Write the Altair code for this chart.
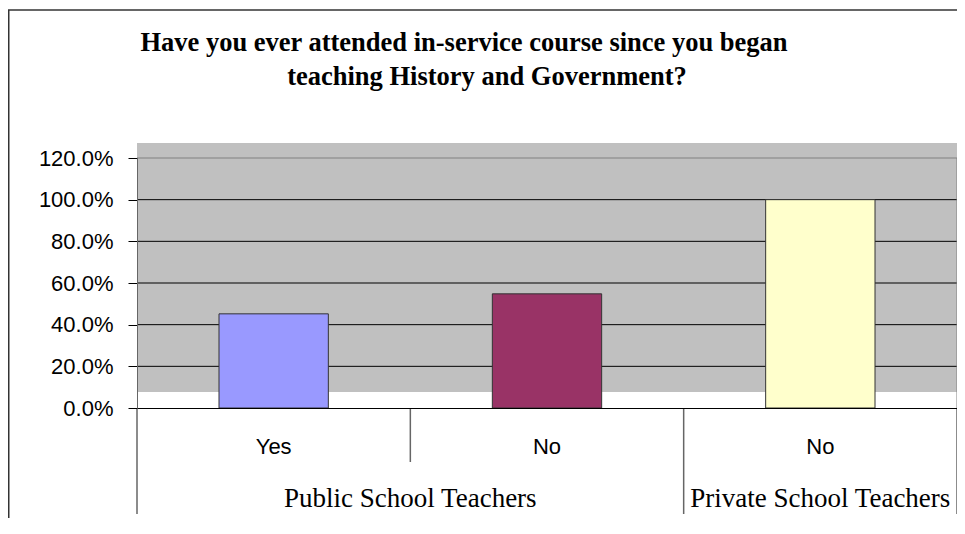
import altair as alt
import pandas as pd

# ---- data ----
groups = ["Public School Teachers", "Public School Teachers", "Private School Teachers"]
answers = ["Yes", "No", "No"]
values = [0.452, 0.548, 1.0]
y_ticks = [0.0, 0.2, 0.4, 0.6, 0.8, 1.0, 1.2]
title_lines = ["Have you ever attended in-service course since you began",
               "teaching History and Government?"]

# ---- styles ----
bar_colors = ["#9999FF", "#993366", "#FFFFCC"]
W, H = 820, 250

keys = [g + "|" + a for g, a in zip(groups, answers)]
df = pd.DataFrame({"key": keys, "group": groups, "answer": answers, "value": values})
df["start"] = [i == 0 or groups[i] != groups[i - 1] for i in range(len(groups))]
df["last"] = [i == len(groups) - 1 for i in range(len(groups))]
grid_df = pd.DataFrame({"v": y_ticks[1:]})
one = pd.DataFrame({"a": [0]})

xscale = alt.Scale(domain=keys, paddingInner=0, paddingOuter=0)
yscale = alt.Scale(domain=[0, 1.2], nice=False, zero=True)

yaxis = alt.Axis(values=y_ticks, format=".1%", title=None, grid=False,
                 tickSize=9, tickColor="black", domainColor="#666666",
                 labelFont="Liberation Sans", labelFontSize=22, labelColor="black",
                 labelPadding=15, zindex=1)
xaxis = alt.Axis(title=None, labelExpr="split(datum.label, '|')[1]", labelAngle=0,
                 ticks=False, tickSize=0, domainColor="black", grid=False,
                 labelFont="Liberation Sans", labelFontSize=22, labelColor="black",
                 labelBaseline="middle", labelPadding=38, zindex=1)

bg = alt.Chart(one).mark_rect(color="#C0C0C0").encode(
    x=alt.value(0), x2=alt.value("width"), y=alt.value(-15), y2=alt.value(234))

grid = alt.Chart(grid_df).mark_rule(strokeWidth=1).encode(
    x=alt.value(0), x2=alt.value("width"),
    y=alt.Y("v:Q", scale=yscale, axis=yaxis),
    color=alt.condition("datum.v >= 1.2", alt.value("#808080"), alt.value("black")))

bars = alt.Chart(df).mark_bar(width=alt.RelativeBandSize(0.4), stroke="#333333",
                              strokeWidth=1).encode(
    x=alt.X("key:N", scale=xscale, axis=xaxis, sort=keys),
    y=alt.Y("value:Q", scale=yscale, axis=yaxis),
    color=alt.Color("key:N", scale=alt.Scale(domain=keys, range=bar_colors), legend=None))

right_border = alt.Chart(one).mark_rule(color="#808080", strokeWidth=1).encode(
    x=alt.value("width"), y=alt.value(0), y2=alt.value(H))

div_short = alt.Chart(df).transform_filter("!datum.start").mark_rule(
    color="#666666", strokeWidth=1.5).encode(
    x=alt.X("key:N", bandPosition=0), y=alt.value(H), y2=alt.value(H + 54))
div_long = alt.Chart(df).transform_filter("datum.start").mark_rule(
    color="#666666", strokeWidth=1.5).encode(
    x=alt.X("key:N", bandPosition=0), y=alt.value(H), y2=alt.value(H + 106))
div_end = alt.Chart(df).transform_filter("datum.last").mark_rule(
    color="#666666", strokeWidth=1.5).encode(
    x=alt.X("key:N", bandPosition=1), y=alt.value(H), y2=alt.value(H + 106))

grp_style = dict(font="Liberation Serif", fontSize=27, color="black",
                 align="center", baseline="alphabetic")
pub_label = alt.Chart(df).transform_filter(
    "datum.group == 'Public School Teachers' && datum.start").mark_text(**grp_style).encode(
    x=alt.X("key:N", bandPosition=1), y=alt.value(H + 99), text="group:N")
priv_label = alt.Chart(df).transform_filter(
    "datum.group == 'Private School Teachers' && datum.start").mark_text(**grp_style).encode(
    x=alt.X("key:N", bandPosition=0.5), y=alt.value(H + 99), text="group:N")

t_style = dict(font="Liberation Serif", fontSize=26.5, fontWeight="bold",
               color="black", align="center", baseline="alphabetic")
title1 = alt.Chart(one).mark_text(**t_style).encode(
    x=alt.value(327), y=alt.value(-107), text=alt.value(title_lines[0]))
title2 = alt.Chart(one).mark_text(**t_style).encode(
    x=alt.value(350), y=alt.value(-73), text=alt.value(title_lines[1]))

frame_left = alt.Chart(one).mark_rule(color="#333333", strokeWidth=2).encode(
    x=alt.value(-128.5), y=alt.value(-148), y2=alt.value(H + 110))
frame_top = alt.Chart(one).mark_rule(color="#333333", strokeWidth=1.5).encode(
    x=alt.value(-129.5), x2=alt.value(W), y=alt.value(-148))

chart = alt.layer(
    bg, grid, bars, right_border, div_short, div_long, div_end,
    pub_label, priv_label, title1, title2, frame_left, frame_top
).properties(
    width=W, height=H,
    autosize=alt.AutoSizeParams(type="none"),
    padding={"left": 129, "top": 150, "right": 0, "bottom": 110},
).configure_view(stroke=None, fill=None).configure(background="white")

chart.save("out.html", embed_options={"renderer": "svg", "actions": False})
